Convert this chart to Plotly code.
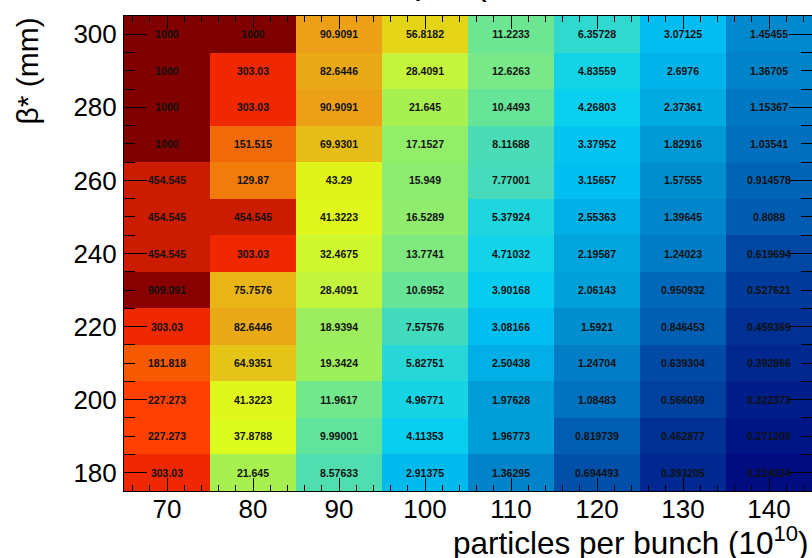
import numpy as np
import plotly.graph_objects as go

# ---- data ----
particles = [70, 80, 90, 100, 110, 120, 130, 140]          # x (10^10)
beta_star = [300, 290, 280, 270, 260, 250, 240, 230, 220, 210, 200, 190, 180]  # y (mm)

values = [
    [1000, 1000, 90.9091, 56.8182, 11.2233, 6.35728, 3.07125, 1.45455],
    [1000, 303.03, 82.6446, 28.4091, 12.6263, 4.83559, 2.6976, 1.36705],
    [1000, 303.03, 90.9091, 21.645, 10.4493, 4.26803, 2.37361, 1.15367],
    [1000, 151.515, 69.9301, 17.1527, 8.11688, 3.37952, 1.82916, 1.03541],
    [454.545, 129.87, 43.29, 15.949, 7.77001, 3.15657, 1.57555, 0.914578],
    [454.545, 454.545, 41.3223, 16.5289, 5.37924, 2.55363, 1.39645, 0.8088],
    [454.545, 303.03, 32.4675, 13.7741, 4.71032, 2.19587, 1.24023, 0.619694],
    [909.091, 75.7576, 28.4091, 10.6952, 3.90168, 2.06143, 0.950932, 0.527621],
    [303.03, 82.6446, 18.9394, 7.57576, 3.08166, 1.5921, 0.846453, 0.459369],
    [181.818, 64.9351, 19.3424, 5.82751, 2.50438, 1.24704, 0.639304, 0.392866],
    [227.273, 41.3223, 11.9617, 4.96771, 1.97628, 1.08483, 0.566059, 0.322373],
    [227.273, 37.8788, 9.99001, 4.11353, 1.96773, 0.819739, 0.462877, 0.271209],
    [303.03, 21.645, 8.57633, 2.91375, 1.36295, 0.694493, 0.393205, 0.224024],
]

x_tick_vals = [70, 80, 90, 100, 110, 120, 130, 140]
y_tick_vals = [180, 200, 220, 240, 260, 280, 300]

x_title = "particles per bunch (10<sup>10</sup>)"
y_title = "β* (mm)"

# ---- derived ----
z = np.array(values, dtype=float)
zlog = np.log10(z)
text = [[f"{v:g}" for v in row] for row in values]

zmin, zmax = np.log10(0.224), 3.0

def pos(v):
    return (np.log10(v) - zmin) / (zmax - zmin)

stops = [
    (0.224, "#000c80"), (0.4629, "#003094"), (1.0, "#006cbc"), (1.454, "#0088cc"),
    (2.0, "#009ed8"), (3.0, "#00bcf0"), (4.2, "#08d0f0"), (5.0, "#18d4e4"),
    (6.36, "#30d8d0"), (8.0, "#48dcb8"), (10.45, "#66e498"), (12.6, "#78e888"),
    (16.0, "#8cec70"), (21.6, "#a8f050"), (28.4, "#c4f43c"), (37.9, "#dcfc20"),
    (43.3, "#e0f41c"), (56.8, "#e4d418"), (70.0, "#e6bc18"), (90.9, "#eca018"),
    (130.0, "#f07c0c"), (151.5, "#f06a08"), (181.8, "#f55a00"), (227.0, "#ff4000"),
    (303.0, "#f02800"), (454.5, "#cc1c00"), (909.0, "#880000"), (1000.0, "#800000"),
]
colorscale = [[max(0.0, min(1.0, pos(v))), c] for v, c in stops]
colorscale[0][0] = 0.0
colorscale[-1][0] = 1.0

FONT = "Liberation Sans, Arial, sans-serif"

fig = go.Figure(
    go.Heatmap(
        x=particles,
        y=beta_star,
        z=zlog,
        zmin=zmin,
        zmax=zmax,
        colorscale=colorscale,
        showscale=False,
        text=text,
        texttemplate="<b>%{text}</b>",
        textfont=dict(family=FONT, size=10.5, color="#111111"),
        hoverinfo="skip",
    )
)

axis_common = dict(
    showgrid=False,
    zeroline=False,
    showline=True,
    linecolor="black",
    linewidth=1,
    mirror="ticks",
    ticks="inside",
    tickcolor="black",
    tickwidth=1,
    tickfont=dict(family=FONT, size=26, color="black"),
)

fig.update_xaxes(
    range=[65, 145],
    tickvals=x_tick_vals,
    ticklen=13,
    ticklabelstandoff=-5,
    minor=dict(dtick=2, tick0=70, ticklen=6, ticks="inside", tickcolor="black", showgrid=False),
    **axis_common,
)
fig.update_yaxes(
    range=[175, 305],
    tickvals=y_tick_vals,
    ticklen=23,
    ticklabelstandoff=1,
    minor=dict(dtick=5, tick0=180, ticklen=11, ticks="inside", tickcolor="black", showgrid=False),
    **axis_common,
)

fig.update_layout(
    width=812,
    height=558,
    margin=dict(l=124, r=0, t=16, b=67),
    paper_bgcolor="white",
    plot_bgcolor="white",
    showlegend=False,
    annotations=[
        dict(text=x_title, xref="paper", yref="paper", x=0.997, y=-0.105,
             xanchor="right", yanchor="middle", showarrow=False,
             font=dict(family=FONT, size=31.5, color="black")),
        dict(text=y_title, xref="paper", yref="paper", x=-0.1395, y=0.883,
             xanchor="center", yanchor="middle", textangle=-90, showarrow=False,
             font=dict(family=FONT, size=30, color="black")),
        dict(text="μ    (", xref="paper", yref="paper", x=(412 - 124) / 688, y=1 + 12 / 475,
             xanchor="left", yanchor="bottom", showarrow=False,
             font=dict(family=FONT, size=36, color="black")),
    ],
)

fig.write_html("out.html", config={"displayModeBar": False},
               post_script="document.body.style.margin='0';")
